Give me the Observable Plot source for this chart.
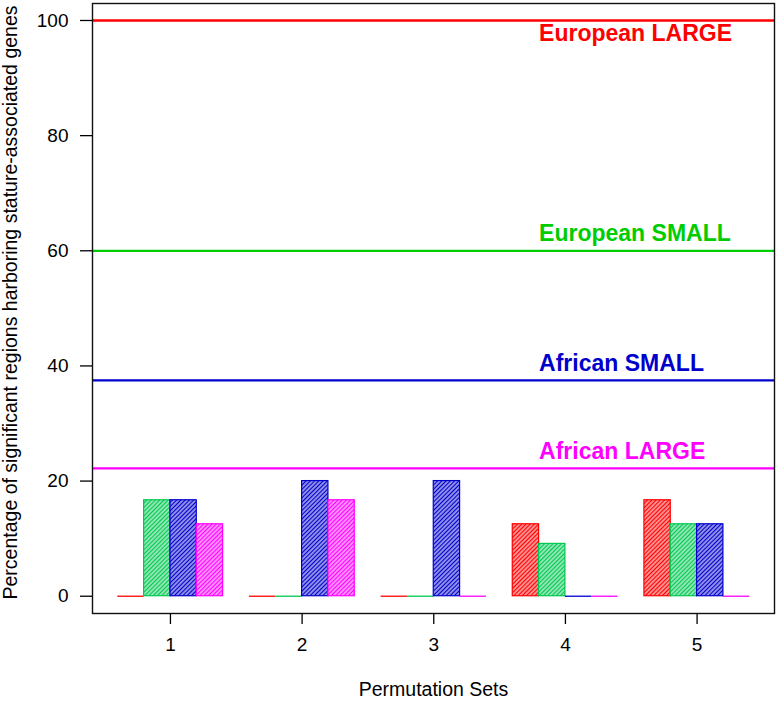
<!DOCTYPE html>
<html>
<head>
<meta charset="utf-8">
<script src="https://cdn.jsdelivr.net/npm/d3@7"></script>
<script src="https://cdn.jsdelivr.net/npm/@observablehq/plot@0.6"></script>
<style>
  html, body { margin: 0; padding: 0; background: white; }
</style>
</head>
<body>
<div id="chart"></div>
<script>
// ---- data ----
const sets = ["1", "2", "3", "4", "5"];
const seriesNames = ["European LARGE", "European SMALL", "African SMALL", "African LARGE"];
const europeanLarge = [0, 0, 0, 12.5, 16.67];
const europeanSmall = [16.67, 0, 0, 9.09, 12.5];
const africanSmall = [16.67, 20, 20, 0, 12.5];
const africanLarge = [12.5, 16.67, 0, 0, 0];
const thresholds = [100, 60, 37.5, 22.22];
const yTicks = [0, 20, 40, 60, 80, 100];
const xTitle = "Permutation Sets";
const yTitle = "Percentage of significant regions harboring stature-associated genes";

// ---- styling ----
const lineColors = ["#FF0000", "#00CD00", "#0000CD", "#FF00FF"];
const barColors = ["#FF0000", "#00C850", "#0000CD", "#FF00FF"];
const seriesValues = [europeanLarge, europeanSmall, africanSmall, africanLarge];

// grouped-bar layout: each group has 4 bars + 1 bar-width space before it
const groupStart = i => i * 5 + 1;
const barRows = seriesValues.map((vals, k) =>
  vals.map((v, i) => ({set: sets[i], series: seriesNames[k], value: v, x1: groupStart(i) + k, x2: groupStart(i) + k + 1}))
);
const tickRows = sets.map((s, i) => ({label: s, pos: groupStart(i) + 2}));

const labelRows = thresholds.map((t, k) => ({name: seriesNames[k], value: t, k}));

const font = "'Liberation Sans', Arial, Helvetica, sans-serif";

const marks = [];
barRows.forEach((rows, k) => {
  marks.push(Plot.rect(rows.filter(d => d.value > 0), {
    x1: "x1", x2: "x2", y1: 0, y2: "value",
    fill: `url(#hatch-${k})`,
    stroke: barColors[k], strokeWidth: 1.2
  }));
  // zero-height bars are drawn as a flat border line, as in R
  marks.push(Plot.ruleY(rows.filter(d => d.value === 0), {
    x1: "x1", x2: "x2", y: "value",
    stroke: barColors[k], strokeWidth: 1.3
  }));
});
marks.push(Plot.ruleY(labelRows, {y: "value", stroke: d => lineColors[d.k], strokeWidth: 2.3}));
marks.push(Plot.text(labelRows, {
  x: 17,
  y: d => d.value >= 95 ? d.value - 2.2 : d.value + 2.9,
  text: "name",
  fill: d => lineColors[d.k],
  textAnchor: "start",
  fontWeight: "bold",
  fontSize: 23
}));
marks.push(Plot.frame({stroke: "#111", strokeWidth: 1.4}));
// axes: ticks from Plot axis marks, labels as text marks at the scaled tick positions
marks.push(Plot.axisY({ticks: yTicks, tickSize: 12, tickFormat: () => "", label: null, strokeWidth: 1.3}));
marks.push(Plot.text(yTicks, {y: d => d, text: d => String(d), frameAnchor: "left", textAnchor: "end", dx: -24, fontSize: 19}));
marks.push(Plot.axisX({ticks: tickRows.map(d => d.pos), tickSize: 11, tickFormat: () => "", label: null, strokeWidth: 1.3}));
marks.push(Plot.text(tickRows, {x: "pos", text: "label", frameAnchor: "bottom", dy: 37, fontSize: 19}));
marks.push(Plot.text([xTitle], {frameAnchor: "bottom", text: d => d, dy: 82, fontSize: 19.5}));
marks.push(Plot.text([yTitle], {frameAnchor: "left", textAnchor: "middle", text: d => d, rotate: -90, dx: -82, dy: -6, fontSize: 19.5}));

const chart = Plot.plot({
  width: 777,
  height: 706,
  marginLeft: 92,
  marginRight: 3,
  marginTop: 3,
  marginBottom: 93,
  style: `font-family: ${font}; font-size: 19px; background: white; color: black; overflow: visible;`,
  x: {type: "linear", domain: [0.04, 25.94], axis: null},
  y: {domain: [-3.0, 102.95], axis: null},
  color: {type: "identity"},
  marks
});

// hatch patterns (R-style density shading)
const ns = "http://www.w3.org/2000/svg";
const defs = document.createElementNS(ns, "defs");
barColors.forEach((c, k) => {
  const p = document.createElementNS(ns, "pattern");
  p.setAttribute("id", `hatch-${k}`);
  p.setAttribute("patternUnits", "userSpaceOnUse");
  p.setAttribute("width", "3");
  p.setAttribute("height", "3");
  p.setAttribute("patternTransform", "rotate(45)");
  const bg = document.createElementNS(ns, "rect");
  bg.setAttribute("width", "3");
  bg.setAttribute("height", "3");
  bg.setAttribute("fill", "white");
  p.appendChild(bg);
  const ln = document.createElementNS(ns, "line");
  ln.setAttribute("x1", "1.5"); ln.setAttribute("x2", "1.5");
  ln.setAttribute("y1", "-1"); ln.setAttribute("y2", "4");
  ln.setAttribute("stroke", c);
  ln.setAttribute("stroke-width", "1.9");
  p.appendChild(ln);
  defs.appendChild(p);
});
chart.insertBefore(defs, chart.firstChild);

document.getElementById("chart").appendChild(chart);
</script>
</body>
</html>
